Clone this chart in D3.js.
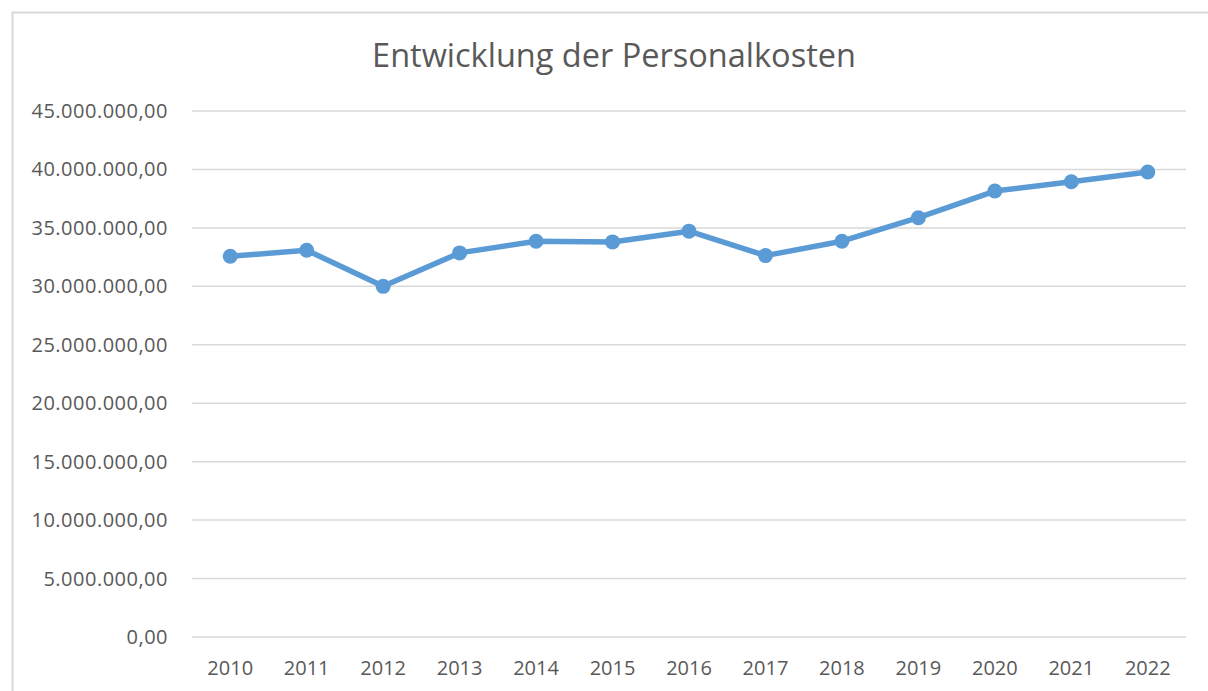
<!DOCTYPE html>
<html>
<head>
<meta charset="utf-8">
<script src="https://cdn.jsdelivr.net/npm/d3@7"></script>
<style>
  body { margin: 0; background: #fff; }
  text { font-family: "Open Sans", "Liberation Sans", sans-serif; fill: #595959; }
</style>
</head>
<body>
<script>
var years = ["2010","2011","2012","2013","2014","2015","2016","2017","2018","2019","2020","2021","2022"];
var kosten = [32570000, 33090000, 30000000, 32860000, 33860000, 33800000, 34720000,
              32630000, 33860000, 35870000, 38150000, 38950000, 39780000];
var yTicks = [0, 5e6, 10e6, 15e6, 20e6, 25e6, 30e6, 35e6, 40e6, 45e6];
var title = "Entwicklung der Personalkosten";

var width = 1208,
    height = 691;

var svg = d3.select("body").append("svg")
    .attr("width", width)
    .attr("height", height);

// chart frame (runs off the right/bottom edge like the screenshot)
svg.append("rect")
    .attr("x", 12.5).attr("y", 12.5)
    .attr("width", 1220).attr("height", 700)
    .attr("fill", "none")
    .attr("stroke", "#d9d9d9")
    .attr("stroke-width", 2);

var plotL = 192, plotR = 1186, plotT = 111, plotB = 637;

var x = d3.scaleBand().domain(years).range([plotL, plotR]);
var y = d3.scaleLinear().domain([0, 45e6]).range([plotB, plotT]);

var fmt = function(v){
  return d3.format(",.2f")(v).replace(/,/g, "#").replace(".", ",").replace(/#/g, ".");
};

// grid
svg.append("g").selectAll("line")
  .data(yTicks)
  .enter().append("line")
    .attr("x1", plotL).attr("x2", plotR)
    .attr("y1", function(d){ return y(d); })
    .attr("y2", function(d){ return y(d); })
    .attr("stroke", "#d9d9d9")
    .attr("stroke-width", 1.5);

// y labels
svg.append("g").selectAll("text")
  .data(yTicks)
  .enter().append("text")
    .attr("x", 168)
    .attr("y", function(d){ return y(d); })
    .attr("dy", ".35em")
    .attr("text-anchor", "end")
    .style("font-size", "20px")
    .style("letter-spacing", "0.5px")
    .text(fmt);

// x labels
svg.append("g").selectAll("text")
  .data(years)
  .enter().append("text")
    .attr("x", function(d){ return x(d) + x.bandwidth() / 2; })
    .attr("y", 668)
    .attr("dy", ".35em")
    .attr("text-anchor", "middle")
    .style("font-size", "20px")
    .text(function(d){ return d; });

// title
svg.append("text")
    .attr("x", 614)
    .attr("y", 56)
    .attr("dy", ".35em")
    .attr("text-anchor", "middle")
    .style("font-size", "32.5px")
    .text(title);

var line = d3.line()
    .x(function(d, i){ return x(years[i]) + x.bandwidth() / 2; })
    .y(function(d){ return y(d); });

svg.append("path")
    .datum(kosten)
    .attr("d", line)
    .attr("fill", "none")
    .attr("stroke", "#5b9bd5")
    .attr("stroke-width", 5.5)
    .attr("stroke-linejoin", "round");

svg.append("g").selectAll("circle")
  .data(kosten)
  .enter().append("circle")
    .attr("cx", function(d, i){ return x(years[i]) + x.bandwidth() / 2; })
    .attr("cy", function(d){ return y(d); })
    .attr("r", 7.5)
    .attr("fill", "#5b9bd5");
</script>
</body>
</html>
